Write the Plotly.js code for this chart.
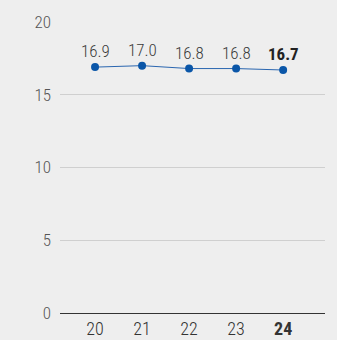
<!DOCTYPE html>
<html>
<head>
<meta charset="utf-8">
<script src="https://cdn.plot.ly/plotly-3.0.1.min.js"></script>
<style>
  html, body { margin: 0; padding: 0; background: #eeeeee; }
  #chart { width: 337px; height: 340px; }
</style>
</head>
<body>
<div id="chart"></div>
<script>
// Yearly values, last year highlighted
const years = ['20', '21', '22', '23', '24'];
const values = [16.9, 17.0, 16.8, 16.8, 16.7];
const valueLabels = ['16.9', '17.0', '16.8', '16.8', '16.7'];
const yTicks = [0, 5, 10, 15, 20];

const FONT = '"Roboto Condensed", Roboto, sans-serif';
const lastIdx = years.length - 1;

const tickText = years.map((y, i) => i === lastIdx ? '<b>' + y + '</b>' : y);

const trace = {
  x: years,
  y: values,
  type: 'scatter',
  mode: 'lines+markers',
  line: { color: '#2a66b0', width: 1 },
  marker: { color: '#0a56a8', size: 8 },
  hoverinfo: 'skip'
};

// value labels above each point (x given as category index)
const annotations = years.map((y, i) => ({
  x: i,
  y: values[i],
  xref: 'x',
  yref: 'y',
  text: i === lastIdx ? '<b>' + valueLabels[i] + '</b>' : valueLabels[i],
  showarrow: false,
  yanchor: 'bottom',
  yshift: 4,
  font: { family: FONT, size: 17, weight: 300, color: i === lastIdx ? '#222222' : '#3a3a3a' }
}));

const layout = {
  width: 337,
  height: 340,
  paper_bgcolor: '#eeeeee',
  plot_bgcolor: '#eeeeee',
  margin: { l: 60, r: 12, t: 22, b: 27 },
  showlegend: false,
  font: { family: FONT, size: 16, weight: 300, color: '#444444' },
  xaxis: {
    type: 'category',
    range: [-0.745, 4.89],
    tickvals: years,
    ticktext: tickText,
    showgrid: false,
    zeroline: false,
    showline: false,
    ticks: '',
    tickfont: { family: FONT, size: 18, weight: 300, color: '#333333' },
    ticklabelstandoff: 3,
    fixedrange: true
  },
  yaxis: {
    range: [0, 20],
    tickvals: yTicks,
    ticktext: yTicks.map(String),
    showgrid: true,
    gridcolor: '#cfcfcf',
    gridwidth: 1,
    zeroline: true,
    zerolinecolor: '#333333',
    zerolinewidth: 1,
    showline: false,
    ticks: '',
    ticklabelstandoff: 8,
    tickfont: { family: FONT, size: 17, weight: 300, color: '#555555' },
    fixedrange: true
  },
  annotations: annotations
};

Plotly.newPlot('chart', [trace], layout, { displayModeBar: false, staticPlot: true });
</script>
</body>
</html>
